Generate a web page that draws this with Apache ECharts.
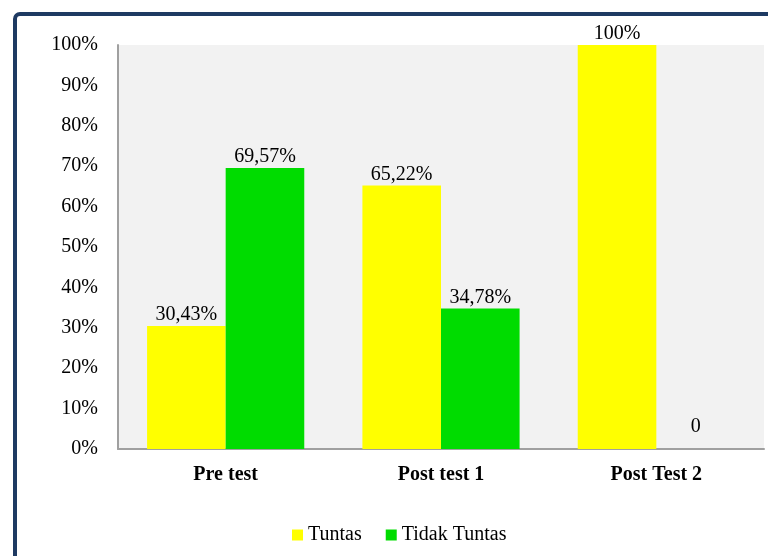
<!DOCTYPE html>
<html>
<head>
<meta charset="utf-8">
<script src="https://cdn.jsdelivr.net/npm/echarts@6/dist/echarts.min.js"></script>
<style>
  html, body { margin: 0; padding: 0; background: #ffffff; }
  #chart { width: 768px; height: 556px; }
</style>
</head>
<body>
<div id="chart"></div>
<script>
// Test stages and completion percentages per stage
const categories = ['Pre test', 'Post test 1', 'Post Test 2'];
const tuntas = [30.43, 65.22, 100];
const tidakTuntas = [69.57, 34.78, 0];
const yTicks = [0, 10, 20, 30, 40, 50, 60, 70, 80, 90, 100];

const serif = '"Liberation Serif", "Times New Roman", serif';

function pctLabel(v) {
  if (v === 0) return '0';
  const s = Number.isInteger(v) ? String(v) : v.toFixed(2).replace('.', ',');
  return s + '%';
}

const labelStyle = {
  show: true,
  position: 'top',
  distance: 1,
  fontFamily: serif,
  fontSize: 20,
  color: '#000',
  formatter: p => pctLabel(p.value)
};

const chart = echarts.init(document.getElementById('chart'), null, { renderer: 'canvas' });

chart.setOption({
  animation: false,
  backgroundColor: '#ffffff',
  graphic: [
    {
      type: 'rect',
      shape: { x: 15, y: 14, width: 820, height: 620, r: 5 },
      style: { fill: 'none', stroke: '#1e3a62', lineWidth: 4 },
      silent: true
    }
  ],
  grid: {
    left: 118,
    right: 4,
    top: 45,
    bottom: 107,
    show: true,
    backgroundColor: '#f2f2f2',
    borderWidth: 0
  },
  legend: {
    bottom: 6,
    left: 287,
    itemWidth: 11,
    itemHeight: 11,
    itemGap: 24,
    icon: 'rect',
    textStyle: { fontFamily: serif, fontSize: 20, color: '#000' },
    data: ['Tuntas', 'Tidak Tuntas']
  },
  xAxis: {
    type: 'category',
    data: categories,
    axisLine: { show: true, lineStyle: { color: '#a0a0a0', width: 2 } },
    axisTick: { show: false },
    axisLabel: {
      fontFamily: serif,
      fontSize: 20,
      fontWeight: 'bold',
      color: '#000',
      margin: 16
    }
  },
  yAxis: {
    type: 'value',
    min: yTicks[0],
    max: yTicks[yTicks.length - 1],
    interval: 10,
    axisLine: { show: true, lineStyle: { color: '#a0a0a0', width: 2 } },
    axisTick: { show: false },
    splitLine: { show: false },
    axisLabel: {
      fontFamily: serif,
      fontSize: 20,
      color: '#000',
      margin: 20,
      padding: [5, 0, 0, 0],
      formatter: v => v + '%'
    }
  },
  series: [
    {
      name: 'Tuntas',
      type: 'bar',
      data: tuntas,
      barGap: '0%',
      barCategoryGap: '27%',
      itemStyle: { color: '#ffff00' },
      label: labelStyle
    },
    {
      name: 'Tidak Tuntas',
      type: 'bar',
      data: tidakTuntas.map(v => v === 0
        ? { value: v, label: { distance: 12 } }
        : v),
      itemStyle: { color: '#00dc00' },
      label: labelStyle
    }
  ]
});
</script>
</body>
</html>
